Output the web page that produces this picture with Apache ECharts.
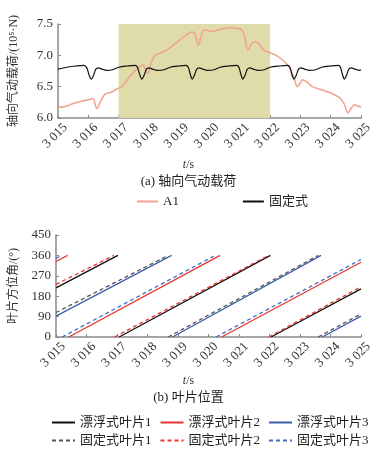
<!DOCTYPE html>
<html>
<head>
<meta charset="utf-8">
<script src="https://cdn.jsdelivr.net/npm/echarts@6/dist/echarts.min.js"></script>
<style>
  html, body { margin: 0; padding: 0; background: #fff; }
  #main { width: 377px; height: 452px; }
</style>
</head>
<body>
<div id="main"></div>
<script>
// (a) axial aerodynamic load, 10^5 N
const a1Time = [3015.0, 3015.2, 3015.5, 3015.8, 3016.0, 3016.15, 3016.28, 3016.4, 3016.55, 3016.75, 3016.9, 3017.1, 3017.4, 3017.6, 3017.8, 3017.9, 3017.97, 3018.05, 3018.2, 3018.5, 3018.75, 3019.0, 3019.2, 3019.4, 3019.5, 3019.63, 3019.72, 3019.8, 3019.9, 3020.1, 3020.3, 3020.5, 3020.7, 3020.9, 3021.05, 3021.15, 3021.27, 3021.38, 3021.5, 3021.65, 3021.8, 3022.0, 3022.2, 3022.45, 3022.65, 3022.78, 3022.9, 3023.0, 3023.08, 3023.2, 3023.4, 3023.7, 3024.0, 3024.3, 3024.45, 3024.57, 3024.68, 3024.78, 3024.9, 3025.0]
const a1Load = [6.17, 6.18, 6.23, 6.27, 6.29, 6.31, 6.15, 6.26, 6.38, 6.41, 6.45, 6.5, 6.68, 6.78, 6.85, 6.76, 6.71, 6.85, 7.0, 7.06, 7.14, 7.24, 7.31, 7.37, 7.36, 7.16, 7.3, 7.4, 7.4, 7.38, 7.41, 7.43, 7.44, 7.43, 7.41, 7.32, 7.08, 7.18, 7.22, 7.17, 7.08, 7.04, 7.0, 6.91, 6.8, 6.65, 6.5, 6.56, 6.61, 6.58, 6.5, 6.45, 6.4, 6.32, 6.22, 6.08, 6.16, 6.21, 6.19, 6.17]

const fixedTime = [3015.0, 3015.3, 3015.6, 3015.85, 3015.95, 3016.03, 3016.1, 3016.17, 3016.25, 3016.33, 3016.45, 3016.6, 3016.8, 3017.0, 3017.3, 3017.55, 3017.62, 3017.7, 3017.77, 3017.84, 3017.92, 3018.0, 3018.12, 3018.27, 3018.5, 3018.7, 3019.0, 3019.22, 3019.3, 3019.37, 3019.43, 3019.5, 3019.58, 3019.66, 3019.78, 3019.93, 3020.15, 3020.35, 3020.65, 3020.9, 3020.97, 3021.04, 3021.1, 3021.17, 3021.25, 3021.33, 3021.45, 3021.6, 3021.8, 3022.0, 3022.3, 3022.58, 3022.65, 3022.72, 3022.79, 3022.86, 3022.94, 3023.02, 3023.14, 3023.29, 3023.5, 3023.7, 3024.0, 3024.25, 3024.32, 3024.39, 3024.45, 3024.52, 3024.6, 3024.68, 3024.8, 3024.95, 3025.0]
const fixedLoad = [6.78, 6.81, 6.83, 6.84, 6.80, 6.68, 6.62, 6.68, 6.78, 6.80, 6.78, 6.76, 6.77, 6.81, 6.83, 6.84, 6.81, 6.69, 6.62, 6.68, 6.78, 6.80, 6.78, 6.76, 6.77, 6.81, 6.83, 6.84, 6.81, 6.69, 6.62, 6.68, 6.78, 6.80, 6.78, 6.76, 6.77, 6.81, 6.83, 6.84, 6.81, 6.69, 6.62, 6.68, 6.78, 6.80, 6.78, 6.76, 6.77, 6.81, 6.83, 6.84, 6.81, 6.69, 6.62, 6.68, 6.78, 6.80, 6.78, 6.76, 6.77, 6.81, 6.83, 6.84, 6.81, 6.69, 6.62, 6.68, 6.78, 6.80, 6.78, 6.76, 6.77]

const shadeRange = [3017, 3022]
const loadTicks = [6.0, 6.5, 7.0, 7.5]

// (b) blade azimuth, segments [t0, deg0, t1, deg1]
const floatBlade1 = [[3015, 217, 3017.03, 360], [3017.07, 0, 3022.03, 360], [3022.05, 0, 3025, 212]]
const floatBlade2 = [[3015, 333, 3015.38, 360], [3015.42, 0, 3020.38, 360], [3020.43, 0, 3025, 330]]
const floatBlade3 = [[3015, 92, 3018.79, 360], [3018.82, 0, 3023.69, 360], [3023.73, 0, 3025, 92]]
const fixedBlade1 = [[3015, 108, 3018.68, 360], [3018.68, 0, 3023.6, 360], [3023.6, 0, 3025, 102]]
const fixedBlade2 = [[3015, 232, 3016.9, 360], [3016.92, 0, 3021.97, 360], [3021.98, 0, 3025, 222]]
const fixedBlade3 = [[3015, 347, 3015.18, 360], [3015.2, 0, 3020.22, 360], [3020.25, 0, 3025, 342]]

const serif = "'Liberation Serif', 'Noto Sans CJK SC'"
const axisGray = '#8a8a8a'

const toPairs = (t, v) => t.map((x, i) => [x, v[i]])
const toSegs = segs => {
    const out = []
    segs.forEach(s => {
        out.push([s[0], s[1]], [s[2], s[3]], [s[2], null])
    })
    return out
}
const fmtYear = v => String(v).replace(/^(\d)/, '$1 ')

const xAxisBase = (gridIndex) => ({
    type: 'value',
    gridIndex,
    min: 3015,
    max: 3025,
    interval: 1,
    axisLine: { lineStyle: { color: axisGray, width: 1.5 } },
    axisTick: { inside: true, length: 3, lineStyle: { color: axisGray } },
    splitLine: { show: false },
    axisLabel: {
        rotate: 45,
        align: 'center',
        verticalAlign: 'middle',
        padding: [0, 8, 0, 0],
        formatter: fmtYear,
        color: '#333',
        fontFamily: serif,
        fontSize: 13,
        margin: 15
    }
})

const legendText = { fontSize: 13, color: '#222', fontFamily: serif }

const myChart = echarts.init(document.getElementById('main'), null, { renderer: 'canvas' })

myChart.setOption({
    animation: false,
    backgroundColor: '#fff',
    textStyle: { fontFamily: serif },
    grid: [
        { left: 52, right: 16, top: 24, height: 94 },
        { left: 52, right: 16, top: 235, height: 102 }
    ],
    xAxis: [xAxisBase(0), xAxisBase(1)],
    yAxis: [
        {
            type: 'value',
            gridIndex: 0,
            min: loadTicks[0],
            max: loadTicks[loadTicks.length - 1],
            interval: 0.5,
            name: '轴向气动载荷/(10⁵·N)',
            nameLocation: 'middle',
            nameGap: 38,
            nameTextStyle: { color: '#333', fontSize: 12, fontFamily: serif },
            axisLine: { show: true, lineStyle: { color: axisGray, width: 1.5 } },
            axisTick: { show: true, inside: true, length: 3, lineStyle: { color: axisGray } },
            splitLine: { show: false },
            axisLabel: { color: '#333', fontSize: 13, fontFamily: serif, margin: 5, formatter: v => v.toFixed(1) }
        },
        {
            type: 'value',
            gridIndex: 1,
            min: 0,
            max: 450,
            interval: 90,
            name: '叶片方位角/(°)',
            nameLocation: 'middle',
            nameGap: 36,
            nameTextStyle: { color: '#333', fontSize: 12, fontFamily: serif },
            axisLine: { show: true, lineStyle: { color: axisGray, width: 1.5 } },
            axisTick: { show: true, inside: true, length: 3, lineStyle: { color: axisGray } },
            splitLine: { show: false },
            axisLabel: { color: '#333', fontSize: 13, fontFamily: serif, margin: 5 }
        }
    ],
    title: [
        { text: '{i|t}/s', left: 'center', top: 154, textStyle: { fontSize: 12, fontWeight: 'normal', color: '#333', fontFamily: serif, rich: { i: { fontStyle: 'italic', fontSize: 12, fontFamily: serif, color: '#333' } } } },
        { text: '(a) 轴向气动载荷', left: 'center', top: 170, textStyle: { fontSize: 13, fontWeight: 'normal', color: '#222', fontFamily: serif } },
        { text: '{i|t}/s', left: 'center', top: 370, textStyle: { fontSize: 12, fontWeight: 'normal', color: '#333', fontFamily: serif, rich: { i: { fontStyle: 'italic', fontSize: 12, fontFamily: serif, color: '#333' } } } },
        { text: '(b) 叶片位置', left: 'center', top: 386, textStyle: { fontSize: 13, fontWeight: 'normal', color: '#222', fontFamily: serif } }
    ],
    legend: [
        {
            data: ['A1', '固定式'],
            left: 136, top: 195, width: 300, padding: 0,
            itemWidth: 21, itemHeight: 10, itemGap: 63,
            itemStyle: { opacity: 0 },
            textStyle: legendText
        },
        {
            data: ['漂浮式叶片1', '漂浮式叶片2', '漂浮式叶片3'],
            left: 51, top: 416, width: 360, padding: 0,
            itemWidth: 23, itemHeight: 10, itemGap: 8,
            itemStyle: { opacity: 0 },
            textStyle: legendText
        },
        {
            data: ['固定式叶片1', '固定式叶片2', '固定式叶片3'],
            left: 51, top: 434, width: 360, padding: 0,
            itemWidth: 23, itemHeight: 10, itemGap: 8,
            itemStyle: { opacity: 0 },
            textStyle: legendText
        }
    ],
    series: [
        {
            name: 'A1',
            type: 'line',
            xAxisIndex: 0, yAxisIndex: 0,
            data: toPairs(a1Time, a1Load),
            smooth: 0.3,
            showSymbol: false, symbol: 'none',
            lineStyle: { color: '#f2a392', width: 1.6 },
            itemStyle: { color: '#f2a392' },
            markArea: {
                silent: true,
                itemStyle: { color: '#dfdcaa' },
                data: [[{ xAxis: shadeRange[0] }, { xAxis: shadeRange[1] }]]
            },
            z: 3
        },
        {
            name: '固定式',
            type: 'line',
            xAxisIndex: 0, yAxisIndex: 0,
            data: toPairs(fixedTime, fixedLoad),
            smooth: 0.3,
            showSymbol: false, symbol: 'none',
            lineStyle: { color: '#111', width: 1.2 },
            itemStyle: { color: '#111' },
            z: 4
        },
        ...[
            ['漂浮式叶片1', floatBlade1, '#111', 'solid'],
            ['漂浮式叶片2', floatBlade2, '#e8352e', 'solid'],
            ['漂浮式叶片3', floatBlade3, '#3c5eac', 'solid'],
            ['固定式叶片1', fixedBlade1, '#555', [4, 3]],
            ['固定式叶片2', fixedBlade2, '#e8352e', [4, 3]],
            ['固定式叶片3', fixedBlade3, '#3f6fc4', [4, 3]]
        ].map(([name, segs, color, type]) => ({
            name,
            type: 'line',
            xAxisIndex: 1, yAxisIndex: 1,
            data: toSegs(segs),
            showSymbol: false, symbol: 'none',
            connectNulls: false,
            lineStyle: { color, width: 1.3, type },
            itemStyle: { color }
        }))
    ]
})
</script>
</body>
</html>
